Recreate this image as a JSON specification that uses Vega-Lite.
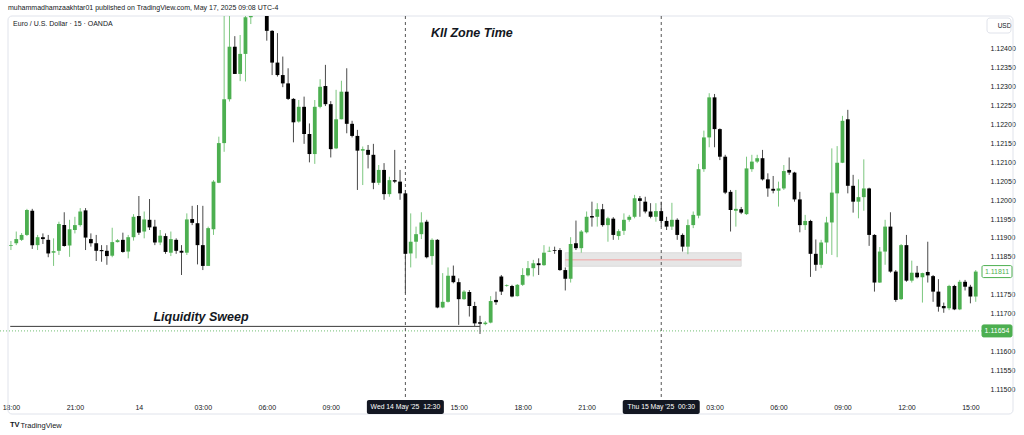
{
"$schema": "https://vega.github.io/schema/vega-lite/v6.json",
"width": 985, "height": 382,
"autosize": {"type": "none"},
"padding": {"left": 0, "top": 16, "right": 39, "bottom": 37},
"background": "#ffffff",
"config": {"font": "Liberation Sans", "view": {"stroke": null}},
"title": {"text": "muhammadhamzaakhtar01 published on TradingView.com, May 17, 2025 09:08 UTC-4", "anchor": "start", "frame": "group", "fontSize": 7, "fontWeight": "normal", "color": "#131722", "offset": 5, "dx": 8},
"datasets": {
"candles": [
{"t":"2025-05-13T18:00Z","o":1.11879,"h":1.11892,"l":1.11868,"c":1.11881},
{"t":"2025-05-13T18:15Z","o":1.11886,"h":1.11917,"l":1.11881,"c":1.11897},
{"t":"2025-05-13T18:30Z","o":1.11895,"h":1.11913,"l":1.11892,"c":1.11908},
{"t":"2025-05-13T18:45Z","o":1.11908,"h":1.11977,"l":1.11905,"c":1.11974},
{"t":"2025-05-13T19:00Z","o":1.11972,"h":1.11977,"l":1.11871,"c":1.11881},
{"t":"2025-05-13T19:15Z","o":1.11881,"h":1.11908,"l":1.11868,"c":1.11902},
{"t":"2025-05-13T19:30Z","o":1.11902,"h":1.11912,"l":1.11884,"c":1.11897},
{"t":"2025-05-13T19:45Z","o":1.11895,"h":1.11908,"l":1.11849,"c":1.11859},
{"t":"2025-05-13T20:00Z","o":1.11861,"h":1.11899,"l":1.11826,"c":1.11865},
{"t":"2025-05-13T20:15Z","o":1.11866,"h":1.11943,"l":1.11855,"c":1.11937},
{"t":"2025-05-13T20:30Z","o":1.11934,"h":1.11968,"l":1.11877,"c":1.11879},
{"t":"2025-05-13T20:45Z","o":1.11880,"h":1.11948,"l":1.11850,"c":1.11923},
{"t":"2025-05-13T21:00Z","o":1.11921,"h":1.11956,"l":1.11912,"c":1.11934},
{"t":"2025-05-13T21:15Z","o":1.11934,"h":1.11979,"l":1.11930,"c":1.11970},
{"t":"2025-05-13T21:30Z","o":1.11973,"h":1.11979,"l":1.11868,"c":1.11901},
{"t":"2025-05-13T21:45Z","o":1.11897,"h":1.11912,"l":1.11877,"c":1.11886},
{"t":"2025-05-13T22:00Z","o":1.11886,"h":1.11908,"l":1.11839,"c":1.11866},
{"t":"2025-05-13T22:15Z","o":1.11868,"h":1.11881,"l":1.11837,"c":1.11865},
{"t":"2025-05-13T22:30Z","o":1.11866,"h":1.11881,"l":1.11829,"c":1.11852},
{"t":"2025-05-13T22:45Z","o":1.11853,"h":1.11927,"l":1.11849,"c":1.11889},
{"t":"2025-05-13T23:00Z","o":1.11889,"h":1.11897,"l":1.11888,"c":1.11894},
{"t":"2025-05-13T23:15Z","o":1.11895,"h":1.11914,"l":1.11861,"c":1.11863},
{"t":"2025-05-13T23:30Z","o":1.11864,"h":1.11908,"l":1.11846,"c":1.11902},
{"t":"2025-05-13T23:45Z","o":1.11902,"h":1.11963,"l":1.11893,"c":1.11956},
{"t":"2025-05-14T00:00Z","o":1.11958,"h":1.12011,"l":1.11908,"c":1.11914},
{"t":"2025-05-14T00:15Z","o":1.11917,"h":1.11970,"l":1.11899,"c":1.11949},
{"t":"2025-05-14T00:30Z","o":1.11948,"h":1.12003,"l":1.11921,"c":1.11928},
{"t":"2025-05-14T00:45Z","o":1.11930,"h":1.11948,"l":1.11881,"c":1.11888},
{"t":"2025-05-14T01:00Z","o":1.11888,"h":1.11921,"l":1.11881,"c":1.11906},
{"t":"2025-05-14T01:15Z","o":1.11905,"h":1.11912,"l":1.11858,"c":1.11863},
{"t":"2025-05-14T01:30Z","o":1.11861,"h":1.11917,"l":1.11852,"c":1.11897},
{"t":"2025-05-14T01:45Z","o":1.11895,"h":1.11899,"l":1.11858,"c":1.11866},
{"t":"2025-05-14T02:00Z","o":1.11866,"h":1.11881,"l":1.11802,"c":1.11861},
{"t":"2025-05-14T02:15Z","o":1.11861,"h":1.11965,"l":1.11855,"c":1.11949},
{"t":"2025-05-14T02:30Z","o":1.11950,"h":1.11985,"l":1.11934,"c":1.11940},
{"t":"2025-05-14T02:45Z","o":1.11939,"h":1.11987,"l":1.11830,"c":1.11881},
{"t":"2025-05-14T03:00Z","o":1.11881,"h":1.11985,"l":1.11815,"c":1.11826},
{"t":"2025-05-14T03:15Z","o":1.11826,"h":1.11930,"l":1.11826,"c":1.11926},
{"t":"2025-05-14T03:30Z","o":1.11923,"h":1.12053,"l":1.11908,"c":1.12049},
{"t":"2025-05-14T03:45Z","o":1.12046,"h":1.12168,"l":1.12045,"c":1.12151},
{"t":"2025-05-14T04:00Z","o":1.12151,"h":1.12505,"l":1.12128,"c":1.12267},
{"t":"2025-05-14T04:15Z","o":1.12267,"h":1.12505,"l":1.12261,"c":1.12406},
{"t":"2025-05-14T04:30Z","o":1.12406,"h":1.12434,"l":1.12334,"c":1.12334},
{"t":"2025-05-14T04:45Z","o":1.12334,"h":1.12437,"l":1.12315,"c":1.12387},
{"t":"2025-05-14T05:00Z","o":1.12387,"h":1.12500,"l":1.12314,"c":1.12484},
{"t":"2025-05-14T05:15Z","o":1.12484,"h":1.12560,"l":1.12466,"c":1.12530},
{"t":"2025-05-14T05:30Z","o":1.12530,"h":1.12610,"l":1.12510,"c":1.12580},
{"t":"2025-05-14T05:45Z","o":1.12580,"h":1.12620,"l":1.12515,"c":1.12540},
{"t":"2025-05-14T06:00Z","o":1.12540,"h":1.12570,"l":1.12422,"c":1.12448},
{"t":"2025-05-14T06:15Z","o":1.12448,"h":1.12450,"l":1.12331,"c":1.12364},
{"t":"2025-05-14T06:30Z","o":1.12364,"h":1.12442,"l":1.12327,"c":1.12331},
{"t":"2025-05-14T06:45Z","o":1.12331,"h":1.12380,"l":1.12299,"c":1.12309},
{"t":"2025-05-14T07:00Z","o":1.12309,"h":1.12349,"l":1.12265,"c":1.12268},
{"t":"2025-05-14T07:15Z","o":1.12268,"h":1.12270,"l":1.12153,"c":1.12206},
{"t":"2025-05-14T07:30Z","o":1.12208,"h":1.12265,"l":1.12205,"c":1.12247},
{"t":"2025-05-14T07:45Z","o":1.12247,"h":1.12274,"l":1.12149,"c":1.12175},
{"t":"2025-05-14T08:00Z","o":1.12175,"h":1.12203,"l":1.12100,"c":1.12122},
{"t":"2025-05-14T08:15Z","o":1.12122,"h":1.12265,"l":1.12096,"c":1.12247},
{"t":"2025-05-14T08:30Z","o":1.12247,"h":1.12320,"l":1.12243,"c":1.12300},
{"t":"2025-05-14T08:45Z","o":1.12302,"h":1.12358,"l":1.12249,"c":1.12254},
{"t":"2025-05-14T09:00Z","o":1.12254,"h":1.12262,"l":1.12113,"c":1.12135},
{"t":"2025-05-14T09:15Z","o":1.12137,"h":1.12292,"l":1.12135,"c":1.12214},
{"t":"2025-05-14T09:30Z","o":1.12214,"h":1.12316,"l":1.12214,"c":1.12287},
{"t":"2025-05-14T09:45Z","o":1.12287,"h":1.12349,"l":1.12177,"c":1.12202},
{"t":"2025-05-14T10:00Z","o":1.12202,"h":1.12210,"l":1.12166,"c":1.12170},
{"t":"2025-05-14T10:15Z","o":1.12170,"h":1.12186,"l":1.12027,"c":1.12131},
{"t":"2025-05-14T10:30Z","o":1.12131,"h":1.12142,"l":1.12040,"c":1.12135},
{"t":"2025-05-14T10:45Z","o":1.12133,"h":1.12146,"l":1.12084,"c":1.12120},
{"t":"2025-05-14T11:00Z","o":1.12120,"h":1.12149,"l":1.12029,"c":1.12046},
{"t":"2025-05-14T11:15Z","o":1.12046,"h":1.12093,"l":1.12040,"c":1.12080},
{"t":"2025-05-14T11:30Z","o":1.12080,"h":1.12098,"l":1.12001,"c":1.12016},
{"t":"2025-05-14T11:45Z","o":1.12016,"h":1.12062,"l":1.12009,"c":1.12053},
{"t":"2025-05-14T12:00Z","o":1.12053,"h":1.12133,"l":1.12045,"c":1.12049},
{"t":"2025-05-14T12:15Z","o":1.12049,"h":1.12080,"l":1.12001,"c":1.12018},
{"t":"2025-05-14T12:30Z","o":1.12018,"h":1.12027,"l":1.11754,"c":1.11858},
{"t":"2025-05-14T12:45Z","o":1.11859,"h":1.11965,"l":1.11822,"c":1.11890},
{"t":"2025-05-14T13:00Z","o":1.11890,"h":1.11930,"l":1.11846,"c":1.11910},
{"t":"2025-05-14T13:15Z","o":1.11910,"h":1.11968,"l":1.11897,"c":1.11941},
{"t":"2025-05-14T13:30Z","o":1.11943,"h":1.11948,"l":1.11846,"c":1.11849},
{"t":"2025-05-14T13:45Z","o":1.11852,"h":1.11899,"l":1.11829,"c":1.11895},
{"t":"2025-05-14T14:00Z","o":1.11895,"h":1.11897,"l":1.11714,"c":1.11716},
{"t":"2025-05-14T14:15Z","o":1.11716,"h":1.11807,"l":1.11714,"c":1.11731},
{"t":"2025-05-14T14:30Z","o":1.11731,"h":1.11822,"l":1.11729,"c":1.11800},
{"t":"2025-05-14T14:45Z","o":1.11800,"h":1.11827,"l":1.11780,"c":1.11783},
{"t":"2025-05-14T15:00Z","o":1.11783,"h":1.11793,"l":1.11670,"c":1.11738},
{"t":"2025-05-14T15:15Z","o":1.11738,"h":1.11762,"l":1.11736,"c":1.11758},
{"t":"2025-05-14T15:30Z","o":1.11757,"h":1.11762,"l":1.11692,"c":1.11720},
{"t":"2025-05-14T15:45Z","o":1.11720,"h":1.11731,"l":1.11667,"c":1.11674},
{"t":"2025-05-14T16:00Z","o":1.11677,"h":1.11694,"l":1.11646,"c":1.11673},
{"t":"2025-05-14T16:15Z","o":1.11672,"h":1.11680,"l":1.11669,"c":1.11676},
{"t":"2025-05-14T16:30Z","o":1.11676,"h":1.11746,"l":1.11674,"c":1.11733},
{"t":"2025-05-14T16:45Z","o":1.11736,"h":1.11758,"l":1.11723,"c":1.11730},
{"t":"2025-05-14T17:00Z","o":1.11798,"h":1.11802,"l":1.11749,"c":1.11758},
{"t":"2025-05-14T17:15Z","o":1.11773,"h":1.11777,"l":1.11771,"c":1.11775},
{"t":"2025-05-14T17:30Z","o":1.11773,"h":1.11776,"l":1.11743,"c":1.11745},
{"t":"2025-05-14T17:45Z","o":1.11746,"h":1.11778,"l":1.11745,"c":1.11776},
{"t":"2025-05-14T18:00Z","o":1.11776,"h":1.11820,"l":1.11773,"c":1.11802},
{"t":"2025-05-14T18:15Z","o":1.11801,"h":1.11839,"l":1.11798,"c":1.11820},
{"t":"2025-05-14T18:30Z","o":1.11820,"h":1.11842,"l":1.11798,"c":1.11833},
{"t":"2025-05-14T18:45Z","o":1.11833,"h":1.11846,"l":1.11802,"c":1.11828},
{"t":"2025-05-14T19:00Z","o":1.11828,"h":1.11881,"l":1.11826,"c":1.11861},
{"t":"2025-05-14T19:15Z","o":1.11864,"h":1.11877,"l":1.11863,"c":1.11866},
{"t":"2025-05-14T19:30Z","o":1.11868,"h":1.11877,"l":1.11858,"c":1.11866},
{"t":"2025-05-14T19:45Z","o":1.11868,"h":1.11873,"l":1.11813,"c":1.11815},
{"t":"2025-05-14T20:00Z","o":1.11815,"h":1.11822,"l":1.11761,"c":1.11792},
{"t":"2025-05-14T20:15Z","o":1.11792,"h":1.11902,"l":1.11782,"c":1.11884},
{"t":"2025-05-14T20:30Z","o":1.11886,"h":1.11946,"l":1.11868,"c":1.11873},
{"t":"2025-05-14T20:45Z","o":1.11873,"h":1.11921,"l":1.11861,"c":1.11917},
{"t":"2025-05-14T21:00Z","o":1.11915,"h":1.11970,"l":1.11912,"c":1.11956},
{"t":"2025-05-14T21:15Z","o":1.11958,"h":1.11996,"l":1.11930,"c":1.11954},
{"t":"2025-05-14T21:30Z","o":1.11956,"h":1.11992,"l":1.11930,"c":1.11976},
{"t":"2025-05-14T21:45Z","o":1.11976,"h":1.11990,"l":1.11930,"c":1.11934},
{"t":"2025-05-14T22:00Z","o":1.11934,"h":1.11956,"l":1.11890,"c":1.11952},
{"t":"2025-05-14T22:15Z","o":1.11951,"h":1.11955,"l":1.11895,"c":1.11908},
{"t":"2025-05-14T22:30Z","o":1.11905,"h":1.11923,"l":1.11895,"c":1.11918},
{"t":"2025-05-14T22:45Z","o":1.11919,"h":1.11965,"l":1.11908,"c":1.11948},
{"t":"2025-05-14T23:00Z","o":1.11948,"h":1.11961,"l":1.11943,"c":1.11956},
{"t":"2025-05-14T23:15Z","o":1.11956,"h":1.12014,"l":1.11952,"c":1.12005},
{"t":"2025-05-14T23:30Z","o":1.12005,"h":1.12011,"l":1.11956,"c":1.11998},
{"t":"2025-05-14T23:45Z","o":1.11996,"h":1.12009,"l":1.11965,"c":1.11970},
{"t":"2025-05-15T00:00Z","o":1.11970,"h":1.11992,"l":1.11952,"c":1.11956},
{"t":"2025-05-15T00:15Z","o":1.11956,"h":1.11992,"l":1.11943,"c":1.11971},
{"t":"2025-05-15T00:30Z","o":1.11971,"h":1.11996,"l":1.11930,"c":1.11945},
{"t":"2025-05-15T00:45Z","o":1.11945,"h":1.11956,"l":1.11921,"c":1.11930},
{"t":"2025-05-15T01:00Z","o":1.11930,"h":1.11993,"l":1.11921,"c":1.11948},
{"t":"2025-05-15T01:15Z","o":1.11948,"h":1.11952,"l":1.11895,"c":1.11908},
{"t":"2025-05-15T01:30Z","o":1.11908,"h":1.11912,"l":1.11864,"c":1.11877},
{"t":"2025-05-15T01:45Z","o":1.11877,"h":1.11949,"l":1.11857,"c":1.11934},
{"t":"2025-05-15T02:00Z","o":1.11934,"h":1.11970,"l":1.11926,"c":1.11961},
{"t":"2025-05-15T02:15Z","o":1.11959,"h":1.12096,"l":1.11952,"c":1.12082},
{"t":"2025-05-15T02:30Z","o":1.12082,"h":1.12184,"l":1.12075,"c":1.12166},
{"t":"2025-05-15T02:45Z","o":1.12166,"h":1.12283,"l":1.12140,"c":1.12272},
{"t":"2025-05-15T03:00Z","o":1.12272,"h":1.12281,"l":1.12140,"c":1.12188},
{"t":"2025-05-15T03:15Z","o":1.12188,"h":1.12190,"l":1.12106,"c":1.12115},
{"t":"2025-05-15T03:30Z","o":1.12115,"h":1.12120,"l":1.12016,"c":1.12020},
{"t":"2025-05-15T03:45Z","o":1.12022,"h":1.12027,"l":1.11917,"c":1.11974},
{"t":"2025-05-15T04:00Z","o":1.11972,"h":1.12027,"l":1.11930,"c":1.11977},
{"t":"2025-05-15T04:15Z","o":1.11976,"h":1.11982,"l":1.11963,"c":1.11967},
{"t":"2025-05-15T04:30Z","o":1.11963,"h":1.12115,"l":1.11961,"c":1.12084},
{"t":"2025-05-15T04:45Z","o":1.12082,"h":1.12120,"l":1.12075,"c":1.12102},
{"t":"2025-05-15T05:00Z","o":1.12102,"h":1.12120,"l":1.12098,"c":1.12111},
{"t":"2025-05-15T05:15Z","o":1.12111,"h":1.12133,"l":1.12052,"c":1.12055},
{"t":"2025-05-15T05:30Z","o":1.12055,"h":1.12071,"l":1.12009,"c":1.12031},
{"t":"2025-05-15T05:45Z","o":1.12030,"h":1.12064,"l":1.12018,"c":1.12025},
{"t":"2025-05-15T06:00Z","o":1.12025,"h":1.12049,"l":1.11983,"c":1.12031},
{"t":"2025-05-15T06:15Z","o":1.12031,"h":1.12093,"l":1.12027,"c":1.12077},
{"t":"2025-05-15T06:30Z","o":1.12080,"h":1.12113,"l":1.12067,"c":1.12073},
{"t":"2025-05-15T06:45Z","o":1.12073,"h":1.12075,"l":1.11996,"c":1.12002},
{"t":"2025-05-15T07:00Z","o":1.12002,"h":1.12022,"l":1.11915,"c":1.11934},
{"t":"2025-05-15T07:15Z","o":1.11934,"h":1.11961,"l":1.11921,"c":1.11945},
{"t":"2025-05-15T07:30Z","o":1.11945,"h":1.11948,"l":1.11797,"c":1.11858},
{"t":"2025-05-15T07:45Z","o":1.11858,"h":1.11896,"l":1.11813,"c":1.11829},
{"t":"2025-05-15T08:00Z","o":1.11829,"h":1.11895,"l":1.11820,"c":1.11888},
{"t":"2025-05-15T08:15Z","o":1.11888,"h":1.11956,"l":1.11858,"c":1.11941},
{"t":"2025-05-15T08:30Z","o":1.11941,"h":1.12137,"l":1.11855,"c":1.12020},
{"t":"2025-05-15T08:45Z","o":1.12018,"h":1.12143,"l":1.11849,"c":1.12099},
{"t":"2025-05-15T09:00Z","o":1.12099,"h":1.12223,"l":1.12098,"c":1.12210},
{"t":"2025-05-15T09:15Z","o":1.12214,"h":1.12239,"l":1.12018,"c":1.12038},
{"t":"2025-05-15T09:30Z","o":1.12038,"h":1.12067,"l":1.11967,"c":1.11996},
{"t":"2025-05-15T09:45Z","o":1.11996,"h":1.12055,"l":1.11952,"c":1.12008},
{"t":"2025-05-15T10:00Z","o":1.12008,"h":1.12108,"l":1.11972,"c":1.12031},
{"t":"2025-05-15T10:15Z","o":1.12031,"h":1.12033,"l":1.11879,"c":1.11908},
{"t":"2025-05-15T10:30Z","o":1.11908,"h":1.11910,"l":1.11758,"c":1.11782},
{"t":"2025-05-15T10:45Z","o":1.11782,"h":1.11876,"l":1.11781,"c":1.11864},
{"t":"2025-05-15T11:00Z","o":1.11864,"h":1.11948,"l":1.11829,"c":1.11930},
{"t":"2025-05-15T11:15Z","o":1.11930,"h":1.11968,"l":1.11808,"c":1.11811},
{"t":"2025-05-15T11:30Z","o":1.11811,"h":1.11815,"l":1.11731,"c":1.11736},
{"t":"2025-05-15T11:45Z","o":1.11738,"h":1.11884,"l":1.11736,"c":1.11881},
{"t":"2025-05-15T12:00Z","o":1.11881,"h":1.11908,"l":1.11784,"c":1.11787},
{"t":"2025-05-15T12:15Z","o":1.11787,"h":1.11840,"l":1.11782,"c":1.11808},
{"t":"2025-05-15T12:30Z","o":1.11808,"h":1.11826,"l":1.11793,"c":1.11796},
{"t":"2025-05-15T12:45Z","o":1.11796,"h":1.11808,"l":1.11729,"c":1.11807},
{"t":"2025-05-15T13:00Z","o":1.11810,"h":1.11890,"l":1.11782,"c":1.11801},
{"t":"2025-05-15T13:15Z","o":1.11799,"h":1.11802,"l":1.11731,"c":1.11758},
{"t":"2025-05-15T13:30Z","o":1.11758,"h":1.11791,"l":1.11705,"c":1.11718},
{"t":"2025-05-15T13:45Z","o":1.11720,"h":1.11729,"l":1.11702,"c":1.11714},
{"t":"2025-05-15T14:00Z","o":1.11714,"h":1.11776,"l":1.11709,"c":1.11773},
{"t":"2025-05-15T14:15Z","o":1.11773,"h":1.11776,"l":1.11709,"c":1.11711},
{"t":"2025-05-15T14:30Z","o":1.11711,"h":1.11789,"l":1.11709,"c":1.11784},
{"t":"2025-05-15T14:45Z","o":1.11784,"h":1.11789,"l":1.11761,"c":1.11771},
{"t":"2025-05-15T15:00Z","o":1.11771,"h":1.11776,"l":1.11727,"c":1.11745},
{"t":"2025-05-15T15:15Z","o":1.11745,"h":1.11815,"l":1.11731,"c":1.11811}
],
"tags": [
{"t": "2025-05-15T15:27Z", "p": 1.11811, "label": "1.11811", "kind": "last"},
{"t": "2025-05-15T15:27Z", "p": 1.11654, "label": "1.11654", "kind": "line"}
],
"timeboxes": [
{"t": "2025-05-14T12:30Z", "label": "Wed 14 May '25  \u00a012:30"},
{"t": "2025-05-15T00:30Z", "label": "Thu 15 May '25  \u00a000:30"}
]
},
"layer": [
{"data": {"values": [{"start": "2025-05-13T17:43:18Z", "end": "2025-05-15T15:27Z"}]},
 "mark": {"type": "rect", "fill": "transparent", "stroke": "#e0e3eb", "strokeWidth": 1, "cornerRadius": 4, "xOffset": 3, "x2Offset": 33, "yOffset": 0, "y2Offset": 16},
 "encoding": {
  "x": {"field": "start", "type": "temporal"},
  "x2": {"field": "end"},
  "y": {"datum": 1.124873, "type": "quantitative"},
  "y2": {"datum": 1.114765}}},
{"data": {"values": [{"start": "2025-05-14T20:00Z", "end": "2025-05-15T04:15Z", "top": 1.11861, "bottom": 1.11825}]},
 "mark": {"type": "rect", "fill": "#e6e6e6", "stroke": "#d6d6d6", "strokeWidth": 0.8},
 "encoding": {
  "x": {"field": "start", "type": "temporal"},
  "x2": {"field": "end"},
  "y": {"field": "top", "type": "quantitative"},
  "y2": {"field": "bottom"}}},
{"data": {"values": [{"start": "2025-05-14T20:00Z", "end": "2025-05-15T04:15Z", "mid": 1.11842}]},
 "mark": {"type": "rule", "color": "#f2a0a0", "strokeWidth": 1},
 "encoding": {
  "x": {"field": "start", "type": "temporal"},
  "x2": {"field": "end"},
  "y": {"field": "mid", "type": "quantitative"}}},
{"data": {"values": [{"p": 1.11654}]},
 "mark": {"type": "rule", "color": "#4caf50", "strokeWidth": 1, "strokeDash": [1, 2], "opacity": 0.8},
 "encoding": {"y": {"field": "p", "type": "quantitative"}}},
{"data": {"values": [{"start": "2025-05-13T17:58Z", "end": "2025-05-14T16:00Z", "p": 1.11666}]},
 "mark": {"type": "rule", "color": "#3a3a3a", "strokeWidth": 1},
 "encoding": {
  "x": {"field": "start", "type": "temporal"},
  "x2": {"field": "end"},
  "y": {"field": "p", "type": "quantitative"}}},
{"data": {"values": [{"t": "2025-05-14T12:30Z"}, {"t": "2025-05-15T00:30Z"}]},
 "mark": {"type": "rule", "color": "#555555", "strokeWidth": 1, "strokeDash": [3, 3]},
 "encoding": {"x": {"field": "t", "type": "temporal"}}},
{"data": {"name": "candles"},
 "mark": {"type": "rule", "strokeWidth": 1, "clip": true},
 "encoding": {
  "x": {"field": "t", "type": "temporal",
   "scale": {"type": "utc", "domain": [1747158198000, 1747322820000]},
   "axis": {"title": "TradingView", "titleAnchor": "start", "titleAlign": "left", "titleBaseline": "middle", "titleX": 20, "titleY": 27, "titleFontSize": 7.5, "titleFontWeight": "normal", "titleColor": "#131722",
    "values": [1747159200000, 1747170000000, 1747180800000, 1747191600000, 1747202400000, 1747213200000, 1747234800000, 1747245600000, 1747256400000, 1747278000000, 1747288800000, 1747299600000, 1747310400000, 1747321200000],
    "labelExpr": "(datum.value == 1747224000000 || datum.value == 1747267200000) ? '' : (utchours(datum.value) == 0 ? utcFormat(datum.value, '%-d') : utcFormat(datum.value, '%H:%M'))", "labelFlush": false, "labelOverlap": false, "grid": false, "domain": false, "ticks": false, "labelPadding": 5, "labelFontSize": 7, "labelColor": "#131722"}},
  "y": {"field": "l", "type": "quantitative",
   "scale": {"domain": [1.114765, 1.124873], "zero": false, "nice": false},
   "axis": {"orient": "right", "title": "USD", "titleAngle": 0, "titleAlign": "center", "titleBaseline": "middle", "titleX": 19, "titleY": 9.5, "titleFontSize": 6.5, "titleFontWeight": "normal", "titleColor": "#131722", "tickCount": 20, "format": ".5f", "labelExpr": "(datum.value > 1.12420 || abs(datum.value - 1.118) < 0.00001 || abs(datum.value - 1.1165) < 0.00001) ? '' : datum.label", "labelOverlap": false, "labelSeparation": 0, "grid": false, "domain": false, "ticks": false, "labelPadding": 5, "labelFontSize": 7, "labelColor": "#131722"}},
  "y2": {"field": "h"},
  "color": {"condition": {"test": "datum.c >= datum.o", "value": "#7cc77f"}, "value": "#4a4a4a"}}},
{"data": {"name": "candles"},
 "mark": {"type": "bar", "width": 3.8, "clip": true},
 "encoding": {
  "x": {"field": "t", "type": "temporal"},
  "y": {"field": "o", "type": "quantitative"},
  "y2": {"field": "c"},
  "color": {"condition": {"test": "datum.c >= datum.o", "value": "#4caf50"}, "value": "#000000"}}},
{"data": {"values": [{"t": "2025-05-14T15:37Z", "p": 1.12442, "label": "KII Zone Time"}, {"t": "2025-05-14T02:55Z", "p": 1.11691, "label": "Liquidity Sweep"}]},
 "mark": {"type": "text", "fontSize": 12.5, "fontStyle": "italic", "fontWeight": "bold", "color": "#131722", "align": "center", "baseline": "middle"},
 "encoding": {
  "x": {"field": "t", "type": "temporal"},
  "y": {"field": "p", "type": "quantitative"},
  "text": {"field": "label"}}},
{"data": {"values": [{"t": "2025-05-13T18:06Z", "p": 1.12466, "label": "Euro / U.S. Dollar · 15 · OANDA"}]},
 "mark": {"type": "text", "fontSize": 7, "color": "#131722", "align": "left", "baseline": "middle"},
 "encoding": {
  "x": {"field": "t", "type": "temporal"},
  "y": {"field": "p", "type": "quantitative"},
  "text": {"field": "label"}}},
{"data": {"name": "timeboxes"},
 "mark": {"type": "rect", "color": "#131722", "cornerRadius": 2, "xOffset": -38.5, "x2Offset": 38.5, "yOffset": 2, "y2Offset": 16},
 "encoding": {
  "x": {"field": "t", "type": "temporal"},
  "x2": {"field": "t"},
  "y": {"datum": 1.114765, "type": "quantitative"},
  "y2": {"datum": 1.114765}}},
{"data": {"name": "timeboxes"},
 "mark": {"type": "text", "color": "#ffffff", "fontSize": 6.8, "align": "center", "baseline": "middle", "yOffset": 9},
 "encoding": {
  "x": {"field": "t", "type": "temporal"},
  "y": {"datum": 1.114765, "type": "quantitative"},
  "text": {"field": "label"}}},
{"data": {"name": "tags"},
 "mark": {"type": "rect", "stroke": "#4caf50", "strokeWidth": 1, "cornerRadius": 1.5, "xOffset": 2, "x2Offset": 32, "yOffset": -6, "y2Offset": 6},
 "encoding": {
  "x": {"field": "t", "type": "temporal"},
  "x2": {"field": "t"},
  "y": {"field": "p", "type": "quantitative"},
  "y2": {"field": "p"},
  "fill": {"condition": {"test": "datum.kind === 'line'", "value": "#4caf50"}, "value": "#ffffff"}}},
{"data": {"name": "tags"},
 "mark": {"type": "text", "fontSize": 7, "align": "center", "baseline": "middle", "xOffset": 17},
 "encoding": {
  "x": {"field": "t", "type": "temporal"},
  "y": {"field": "p", "type": "quantitative"},
  "text": {"field": "label"},
  "color": {"condition": {"test": "datum.kind === 'line'", "value": "#ffffff"}, "value": "#4caf50"}}},
{"data": {"values": [{"t": "2025-05-15T15:27Z", "label": "USD"}]},
 "mark": {"type": "rect", "fill": "transparent", "stroke": "#e0e3eb", "strokeWidth": 1, "cornerRadius": 3, "xOffset": 7, "x2Offset": 31, "yOffset": 2, "y2Offset": 17},
 "encoding": {
  "x": {"field": "t", "type": "temporal"},
  "x2": {"field": "t"},
  "y": {"datum": 1.124873, "type": "quantitative"},
  "y2": {"datum": 1.124873}}},
{"data": {"values": [{"t": "2025-05-13T17:43:18Z", "label": "TV"}]},
 "mark": {"type": "text", "fontSize": 7.5, "fontWeight": "bold", "color": "#131722", "align": "left", "baseline": "middle", "xOffset": 5, "yOffset": 27},
 "encoding": {
  "x": {"field": "t", "type": "temporal"},
  "y": {"datum": 1.114765, "type": "quantitative"},
  "text": {"field": "label"}}}
]
}
